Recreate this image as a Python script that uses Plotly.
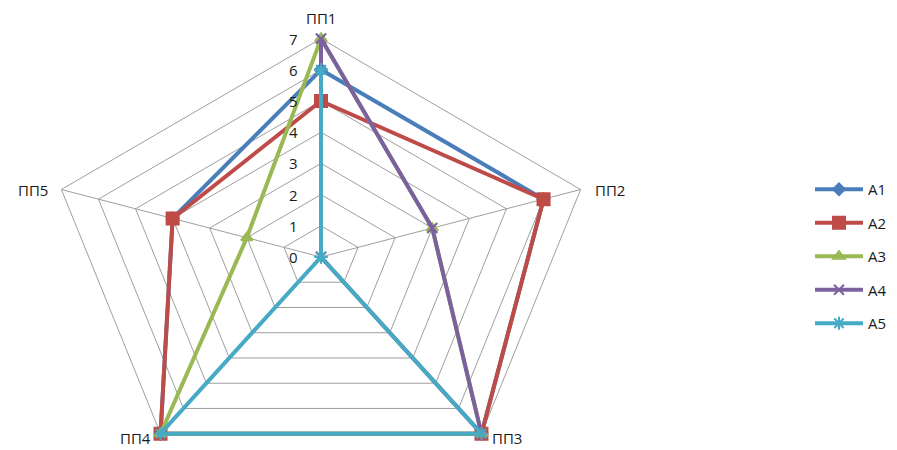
import math
import plotly.graph_objects as go

# Categories (radar axes), scale ticks and series values
categories = ["ПП1", "ПП2", "ПП3", "ПП4", "ПП5"]
tick_values = [0, 1, 2, 3, 4, 5, 6, 7]
series_names = ["A1", "A2", "A3", "A4", "A5"]
A1 = [6, 6, 7, 7, 4]
A2 = [5, 6, 7, 7, 4]
A3 = [7, 3, 7, 7, 2]
A4 = [7, 3, 7, 0, 0]
A5 = [6, 0, 7, 7, 0]
series_values = [A1, A2, A3, A4, A5]

colors = ["#4A7EBB", "#BE4B48", "#98B954", "#7D60A0", "#46AAC5"]
symbols = ["diamond", "square", "triangle-up", "x-thin", "asterisk-open"]
msizes = [9, 12, 10, 10, 11]

n = len(categories)
angles = [2 * math.pi * k / n for k in range(n)]  # clockwise from top


def to_xy(vals):
    xs = [v * math.sin(a) for v, a in zip(vals, angles)]
    ys = [v * math.cos(a) for v, a in zip(vals, angles)]
    return xs + xs[:1], ys + ys[:1]


fig = go.Figure()
grid_color = "#9E9E9E"
rmax = max(tick_values)

# concentric pentagon gridlines
for t in tick_values[1:]:
    gx, gy = to_xy([t] * n)
    fig.add_trace(go.Scatter(x=gx, y=gy, mode="lines", hoverinfo="skip",
                             line=dict(color=grid_color, width=1), showlegend=False))
# spokes
for a in angles:
    fig.add_trace(go.Scatter(x=[0, rmax * math.sin(a)], y=[0, rmax * math.cos(a)],
                             mode="lines", hoverinfo="skip",
                             line=dict(color=grid_color, width=1), showlegend=False))

# data series
for name, vals, c, s, ms in zip(series_names, series_values, colors, symbols, msizes):
    sx, sy = to_xy(vals)
    marker = dict(symbol=s, size=ms, color=c, line=dict(color=c, width=2))
    fig.add_trace(go.Scatter(x=sx, y=sy, mode="lines+markers", name=name,
                             legendgroup=name,
                             line=dict(color=c, width=4), marker=marker))

font = dict(family="Open Sans, DejaVu Sans, sans-serif", size=15, color="#1A1A1A")

# radial tick labels along the first axis
for t in tick_values:
    fig.add_annotation(x=-0.55, y=t, text=str(t), showarrow=False,
                       xanchor="right", yanchor="middle", font=font)

# category labels beyond each outer vertex
offsets = [(0, 21, "center", "middle"), (12, 0, "left", "middle"),
           (9, -4, "left", "middle"), (-8, -4, "right", "middle"),
           (-11, 0, "right", "middle")]
for cat, a, (dx, dy, xa, ya) in zip(categories, angles, offsets):
    fig.add_annotation(x=rmax * math.sin(a), y=rmax * math.cos(a), text=cat,
                       showarrow=False, xshift=dx, yshift=dy, xanchor=xa,
                       yanchor=ya, font=font)

px_x, px_y = 39.0, 31.2
cx, cy = 321, 257
W, H = 897, 450
fig.update_layout(
    width=W, height=H,
    margin=dict(l=0, r=0, t=0, b=0),
    paper_bgcolor="white", plot_bgcolor="white",
    xaxis=dict(range=[-cx / px_x, (W - cx) / px_x], visible=False, fixedrange=True),
    yaxis=dict(range=[-(H - cy) / px_y, cy / px_y], visible=False, fixedrange=True),
    showlegend=True,
    legend=dict(x=0.903, y=0.43, xanchor="left", yanchor="middle",
                font=font, tracegroupgap=11, traceorder="grouped",
                itemwidth=48, bgcolor="rgba(0,0,0,0)"),
)

fig.write_html("out.html")
